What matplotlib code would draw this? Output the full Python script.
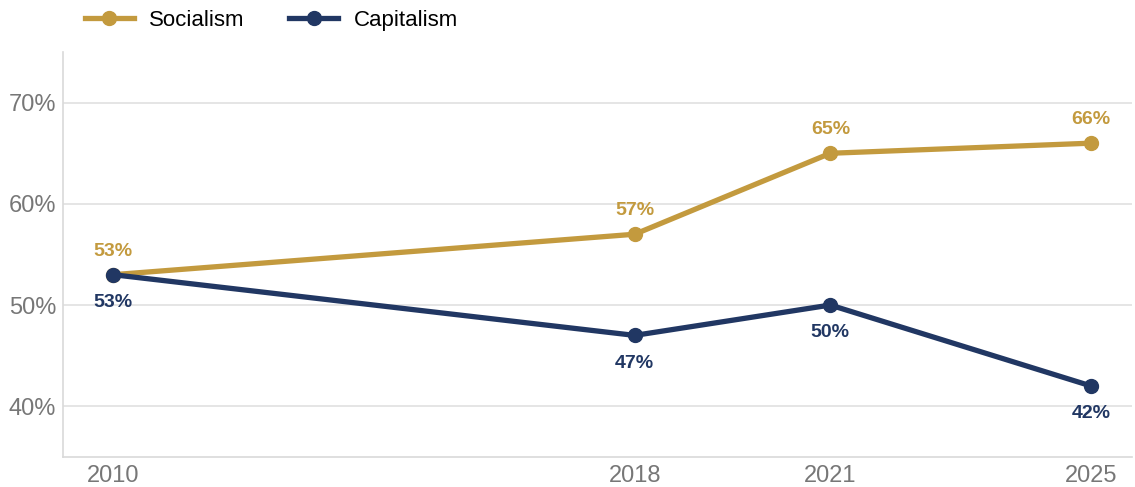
import matplotlib.pyplot as plt
from matplotlib.ticker import FuncFormatter

plt.rcParams['font.family'] = ['Liberation Sans', 'DejaVu Sans']

# Survey results by year
years = [2010, 2018, 2021, 2025]
socialism = [53, 57, 65, 66]
capitalism = [53, 47, 50, 42]

gold = '#C39A3E'
navy = '#213763'

fig = plt.figure(figsize=(11.35, 4.87), dpi=100)
ax = fig.add_axes([0.0555, 0.062, 0.942, 0.831])

ax.plot(years, socialism, color=gold, lw=3.8, marker='o', ms=10, label='Socialism', zorder=3)
ax.plot(years, capitalism, color=navy, lw=3.8, marker='o', ms=10, label='Capitalism', zorder=3)

for x, y in zip(years, socialism):
    ax.annotate(f'{y}%', (x, y), xytext=(0, 17), textcoords='offset points',
                ha='center', va='center', color=gold, fontsize=14, fontweight='bold')
for x, y in zip(years, capitalism):
    ax.annotate(f'{y}%', (x, y), xytext=(0, -20), textcoords='offset points',
                ha='center', va='center', color=navy, fontsize=14, fontweight='bold')

ax.set_xlim(2009.23, 2025.63)
ax.set_ylim(35, 75)
ax.set_xticks(years)
ax.set_yticks([40, 50, 60, 70])
ax.yaxis.set_major_formatter(FuncFormatter(lambda v, _: f'{v:.0f}%'))
ax.tick_params(axis='both', length=0, labelsize=17, labelcolor='#777777')
ax.tick_params(axis='x', pad=6)
ax.tick_params(axis='y', pad=5)

ax.grid(axis='y', color='#E0E0E0', lw=1.2)
ax.set_axisbelow(True)
for side in ['top', 'right']:
    ax.spines[side].set_visible(False)
for side in ['left', 'bottom']:
    ax.spines[side].set_color('#D9D9D9')
    ax.spines[side].set_linewidth(1.2)

fig.legend(loc='upper left', bbox_to_anchor=(0.057, 1.02), ncol=2, frameon=False,
           fontsize=16, handlelength=2.2, columnspacing=2.0, handletextpad=0.7)

fig.savefig('out.png', dpi=100)
